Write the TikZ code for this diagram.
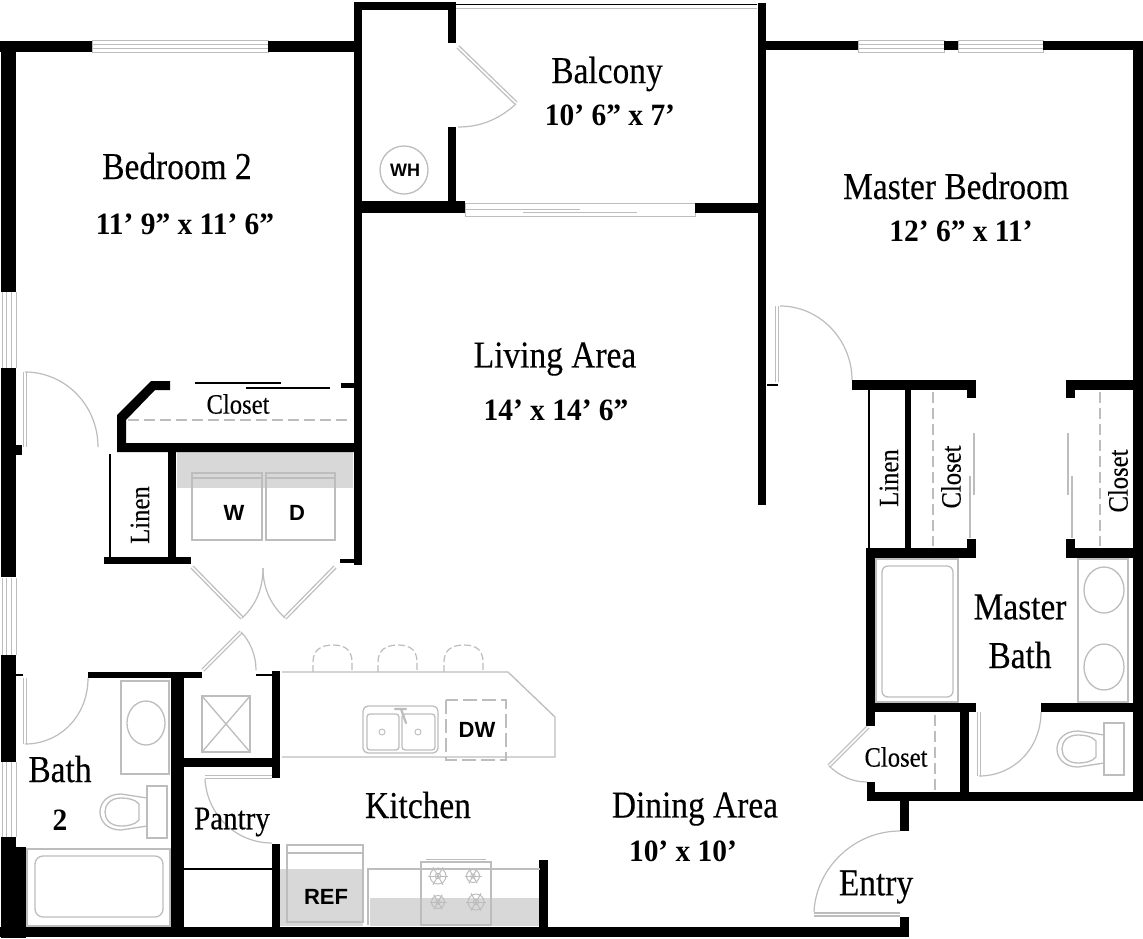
\documentclass[tikz,border=0pt]{standalone}
\usepackage{fontspec}
\setmainfont{Liberation Serif}
\newfontfamily\roomfont[FakeStretch=0.88,FakeBold=0.25]{Liberation Serif}
\newfontfamily\dimfont[FakeStretch=0.95]{Liberation Serif}
\newfontfamily\applfont{Liberation Sans}
\definecolor{fix}{HTML}{BDBDBD}
\definecolor{shade}{HTML}{D8D8D8}
\tikzset{
  wall/.style={fill=black,draw=none},
  fixture/.style={draw=fix,line width=1.3pt,fill=none},
  arcline/.style={draw=fix,line width=1.2pt},
  leaf/.style={draw=fix,line width=1.3pt,double=white,double distance=1.6pt},
  thinblack/.style={draw=black,line width=1.3pt},
  dashline/.style={draw=fix,line width=1.2pt,dash pattern=on 11pt off 5pt},
  room/.style={font=\roomfont\fontsize{38}{40}\selectfont,inner sep=0pt,text=black},
  dim/.style={font=\dimfont\fontsize{31}{33}\selectfont\bfseries,inner sep=0pt,text=black},
  small/.style={font=\roomfont\fontsize{28}{32}\selectfont,inner sep=0pt,text=black},
  appl/.style={font=\applfont\bfseries\fontsize{22}{24}\selectfont,inner sep=0pt,text=black},
}
\newcommand{\W}[4]{\path[wall] (#1,#2) rectangle (#3,#4);}
\newcommand{\hwin}[3]{\draw[fixture,line width=.8pt] (#1,#3) rectangle (#2,#3+12);\draw[fix,line width=.8pt] (#1,#3+4)--(#2,#3+4) (#1,#3+8)--(#2,#3+8);}
\newcommand{\vwin}[2]{\draw[fix,line width=.9pt] (2,#1)--(2,#2) (6,#1)--(6,#2) (11,#1)--(11,#2) (16,#1)--(16,#2);}
\newcommand{\toiletshape}{%
  \draw[fixture] (0,-26) rectangle (20,26);
  \draw[fixture] (0,-14) -- (-26,-18) .. controls (-40,-18) and (-47,-9) .. (-47,0) .. controls (-47,9) and (-40,18) .. (-26,18) -- (0,14);
  \draw[fixture] (-8,-8) .. controls (-12,-13) and (-20,-14) .. (-26,-14) .. controls (-37,-14) and (-42,-7) .. (-42,0) .. controls (-42,7) and (-37,14) .. (-26,14) .. controls (-20,14) and (-12,13) .. (-8,8) -- cycle;
}
\newcommand{\burner}[3]{%
  \draw[fix,line width=1pt] (#1,#2) circle (#3);
  \foreach \a in {0,60,...,300}{\draw[fix,line width=1pt] (#1,#2) -- ++(\a:#3+2);}
  \draw[fix,line width=.8pt] (#1,#2) circle (#3*0.35);
}
\newcommand{\stool}[1]{\draw[dashline,dash pattern=on 7pt off 3pt] (#1,672) -- (#1,662) .. controls (#1,650) and (#1+8,645) .. (#1+20,645) .. controls (#1+32,645) and (#1+39,650) .. (#1+39,662) -- (#1+39,672);}
\begin{document}
\begin{tikzpicture}[x=1pt,y=-1pt]
\useasboundingbox (0,0) rectangle (1143,938);
\path[fill=white] (0,0) rectangle (1143,938);

% shaded zones
\path[fill=shade] (177,452) rectangle (353,488);
\path[fill=shade] (280,869) rectangle (363,926);
\path[fill=shade] (370,898) rectangle (540,926);

% windows
\hwin{92}{268}{40}
\hwin{858}{944}{40}
\hwin{958}{1043}{40}
\vwin{292}{368}
\vwin{578}{655}
\vwin{762}{837}
\draw[fix,line width=1pt] (465,203) rectangle (695,216);
\draw[fix,line width=.8pt] (466,209)--(580,209) (523,212)--(637,212);
\draw[black,line width=1pt] (456,4)--(757,4);
\draw[fix,line width=1pt] (456,8)--(757,8);

% outer walls
\W{0}{41}{92}{52}
\W{268}{41}{356}{52}
\W{1}{41}{16}{292}
\W{1}{368}{16}{577}
\W{16}{445}{22}{455}
\W{1}{655}{16}{762}
\W{1}{837}{16}{938}
\W{1}{847}{26}{938}
\W{0}{927}{909}{937}
% bedroom 2 / core
\W{354}{2}{362}{565}
\W{354}{2}{456}{10}
\W{448}{2}{456}{43}
\W{448}{127}{456}{205}
\W{354}{201}{465}{213}
\W{695}{203}{760}{213}
\W{758}{3}{766}{505}
\W{766}{41}{858}{50}
\W{944}{41}{958}{50}
\W{1043}{41}{1143}{50}
\W{1133}{41}{1143}{801}
% bedroom closet and laundry
\path[wall] (117,415) -- (151,381) -- (170,381) -- (170,390) -- (155,390) -- (126,420) -- (126,443) -- (354,443) -- (354,452) -- (117,452) -- cycle;
\W{341}{383}{354}{388}
\W{168}{452}{176}{564}
\W{104}{557}{191}{564}
\W{340}{559}{354}{563}
\draw[thinblack] (195,383)--(281,383) (246,388)--(330,388) (110,454)--(110,557);
\draw[dashline] (128,420)--(348,420);
% bath 2, pantry
\W{88}{672}{202}{678}
\W{16}{674}{23}{676}
\W{171}{672}{184}{927}
\W{184}{758}{278}{767}
\W{272}{671}{280}{778}
\W{272}{844}{280}{927}
\W{256}{674}{272}{676}
\draw[thinblack] (184,869)--(272,869);
\W{539}{860}{548}{927}
% master closets
\W{852}{380}{976}{390}
\W{967}{380}{976}{398}
\W{1066}{380}{1133}{390}
\W{1066}{380}{1075}{398}
\W{905}{390}{911}{548}
\W{866}{548}{976}{558}
\W{967}{539}{976}{558}
\W{1066}{548}{1133}{558}
\W{1066}{539}{1075}{558}
\draw[thinblack] (869,390)--(869,548) (767,385)--(778,385);
\draw[dashline] (933,392)--(933,546);
\draw[dashline] (1100,392)--(1100,546);
\draw[fix,line width=1.2pt] (974,433)--(974,495) (970,476)--(970,538) (1068,433)--(1068,495) (1072,476)--(1072,538);
% master bath
\W{866}{548}{875}{726}
\W{867}{782}{875}{801}
\W{867}{703}{976}{712}
\W{1041}{703}{1143}{712}
\W{960}{703}{969}{801}
\W{867}{792}{1143}{801}
\W{900}{801}{909}{831}
\W{900}{917}{909}{937}
\draw[dashline] (935,715)--(935,790);

% doors
\draw[leaf] (25,372)--(25,447);
\draw[arcline] (25,372) .. controls (65,372) and (98,405) .. (98,447);
\draw[leaf] (192,567)--(242,618);
\draw[leaf] (335,567)--(285,618);
\draw[arcline] (242,618) .. controls (255,606) and (263,590) .. (263,568);
\draw[arcline] (285,618) .. controls (272,606) and (263,590) .. (263,568);
\draw[leaf] (203,670)--(241,632);
\draw[arcline] (241,632) .. controls (250,641) and (256,655) .. (256,670);
\draw[leaf] (25,678)--(25,744);
\draw[arcline] (25,744) .. controls (60,744) and (88,716) .. (88,678);
\draw[leaf] (205,777)--(272,777);
\draw[arcline] (205,779) .. controls (207,815) and (236,843) .. (272,843);
\draw[leaf] (458,47)--(516,103);
\draw[arcline] (516,104) .. controls (498,120) and (480,127) .. (458,127);
\draw[leaf] (777,306)--(777,382);
\draw[arcline] (780,306) .. controls (820,306) and (852,340) .. (852,380);
\draw[leaf] (868,727)--(829,766);
\draw[arcline] (829,766) .. controls (840,776) and (852,782) .. (867,782);
\draw[leaf] (979,712)--(979,776);
\draw[arcline] (979,776) .. controls (1014,776) and (1041,748) .. (1041,712);
\draw[leaf] (814,914.5)--(900,914.5);
\draw[arcline] (814,912) .. controls (816,868) and (854,831) .. (900,831);

% laundry
\draw[fixture] (192,473) rectangle (262,540);
\draw[fixture] (266,473) rectangle (335,540);
\draw[fixture] (192,478)--(262,478) (266,478)--(335,478);
% bath 2 fixtures
\draw[fixture] (121,681) rectangle (169,774);
\draw[fixture] (146,723) ellipse [x radius=19,y radius=22];
\draw[fixture] (202,696) rectangle (250,752);
\draw[fixture] (202,696)--(250,752) (250,696)--(202,752);
\begin{scope}[shift={(147,812)}]\toiletshape\end{scope}
\draw[fixture] (27,849) rectangle (170,926);
\draw[fixture,rounded corners=8pt] (35,856) rectangle (163,917);
% kitchen
\draw[fixture] (282,672)--(508,672)--(555,717)--(555,757)--(282,757);
\stool{313}\stool{378}\stool{444}
\draw[fixture,rounded corners=5pt] (363,706) rectangle (438,753);
\draw[fixture,rounded corners=3pt] (367,714) rectangle (399,750);
\draw[fixture,rounded corners=3pt] (402,714) rectangle (435,750);
\draw[fix,line width=.9pt] (382,732) circle (3);
\draw[fix,line width=.9pt] (418,732) circle (3);
\draw[fix,line width=2.2pt,line cap=round] (395,709)--(406,709) (401,709)--(406,723);
\draw[dashline,dash pattern=on 14pt off 5pt] (446,700) rectangle (506,760);
\draw[fixture] (287,845) rectangle (363,922);
\draw[fixture] (287,853)--(363,853);
\draw[fixture] (368,925)--(368,869)--(540,869);
\draw[fixture] (421,862) rectangle (491,925);
\draw[fix,line width=1pt] (426,859)--(486,859);
\burner{438}{876}{8}
\burner{473}{876}{6.5}
\burner{438}{902}{6.5}
\burner{476}{902}{8}
% master bath fixtures
\draw[fixture] (876,559) rectangle (958,702);
\draw[fixture,rounded corners=6pt] (882,566) rectangle (953,697);
\draw[fixture] (1078,559) rectangle (1128,702);
\draw[fixture] (1104,590) ellipse [x radius=20,y radius=23];
\draw[fixture] (1104,667) ellipse [x radius=20,y radius=23];
\begin{scope}[shift={(1104,749)}]\toiletshape\end{scope}
% water heater
\draw[fixture] (404,170) circle (24);

% labels
\node[room] (bed2) at (177,166) {Bedroom 2};
\node[dim] (bed2d) at (185,224) {11’ 9” x 11’ 6”};
\node[room] (balc) at (607,74) {Balcony};
\node[dim] (balcd) at (610,115) {10’ 6” x 7’};
\node[room] (mbed) at (956,186) {Master Bedroom};
\node[dim] (mbedd) at (961,231) {12’ 6” x 11’};
\node[room] (liv) at (555,359) {Living Area};
\node[dim] (livd) at (556,410) {14’ x 14’ 6”};
\node[small] (cl1) at (238,404) {Closet};
\node[small,rotate=90] (lin1) at (140,515) {Linen};
\node[small,rotate=90] (lin2) at (889,478) {Linen};
\node[small,rotate=90] (cl2) at (951,477) {Closet};
\node[small,rotate=90] (cl3) at (1118,481) {Closet};
\node[small] (cl4) at (896,757) {Closet};
\node[room] (mb1) at (1020,607) {Master};
\node[room] (mb2) at (1020,655) {Bath};
\node[room] (b2a) at (60,769) {Bath};
\node[dim] (b2b) at (60,820) {2};
\node[room,font=\roomfont\fontsize{33}{36}\selectfont] (pan) at (232,822) {Pantry};
\node[room] (kit) at (418,805) {Kitchen};
\node[room] (din) at (695,809) {Dining Area};
\node[dim] (dind) at (683,851) {10’ x 10’};
\node[room] (ent) at (876,887) {Entry};
\node[appl] (w) at (234,513) {W};
\node[appl] (d) at (297,513) {D};
\node[appl] (ref) at (326,897) {REF};
\node[appl] (dw) at (477,730) {DW};
\node[appl,font=\applfont\bfseries\fontsize{18}{20}\selectfont] (wh) at (405,170) {WH};
\end{tikzpicture}
\end{document}
